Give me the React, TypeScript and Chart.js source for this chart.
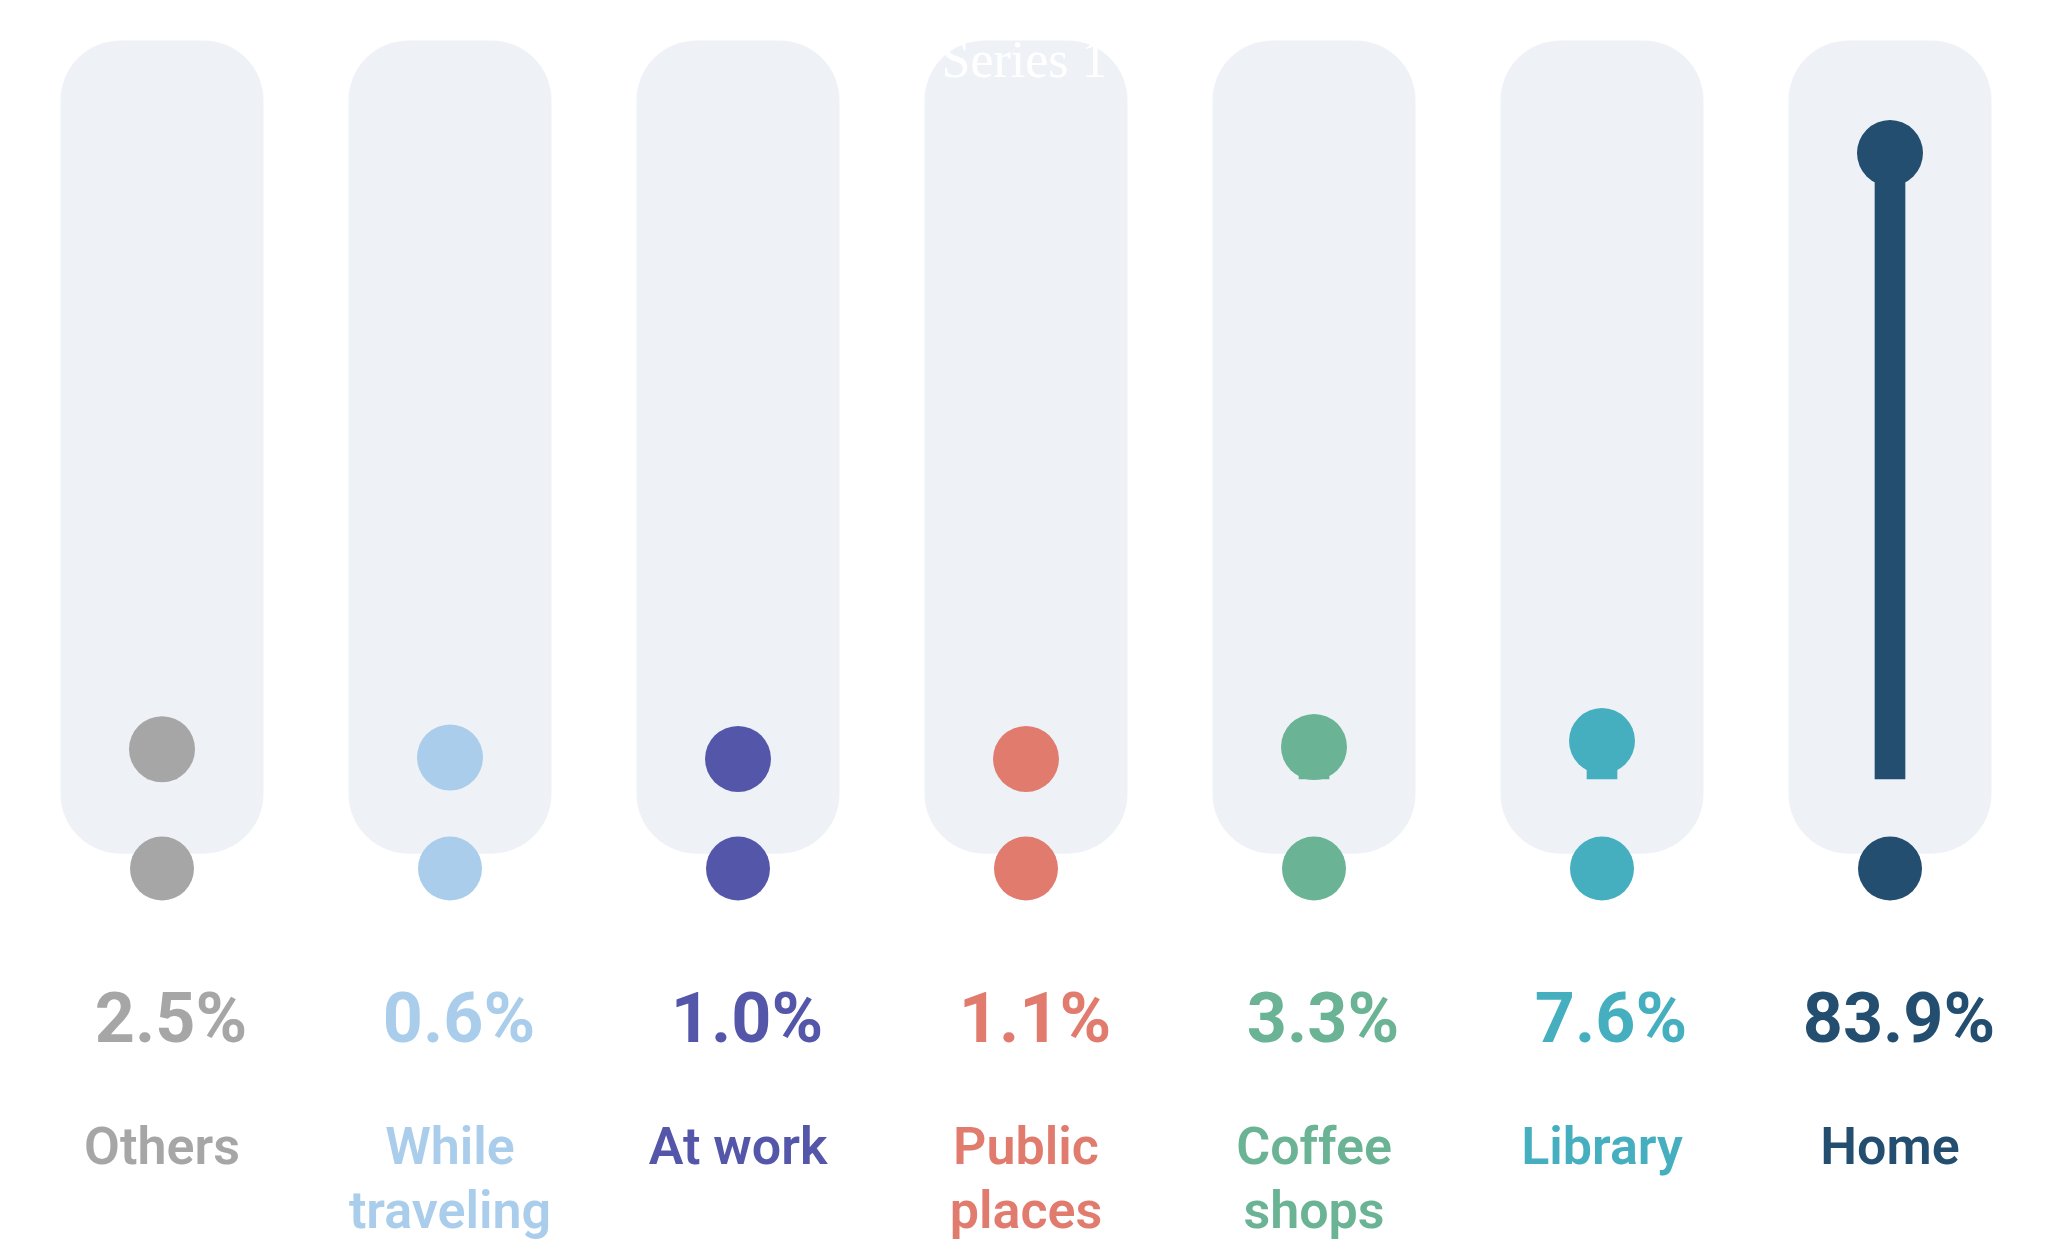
import React, { useEffect, useRef } from 'react';
import { Chart, registerables } from 'chart.js';

Chart.register(...registerables);

const categories: (string | string[])[] = [
  'Others',
  ['While', 'traveling'],
  'At work',
  ['Public', 'places'],
  ['Coffee', 'shops'],
  'Library',
  'Home',
];
const shares = [2.5, 0.6, 1.0, 1.1, 3.3, 7.6, 83.9];
const markerLevels = [4.0, 2.9, 2.7, 2.7, 4.3, 5.1, 83.9];
const baseMarkers = [-12, -12, -12, -12, -12, -12, -12];
const trackLow = -10;
const trackHigh = 99;
const seriesName = 'Series 1';
const colors = ['#a6a6a6', '#a9cdea', '#5457a9', '#e07b6e', '#6ab394', '#45afc0', '#234e6f'];
const trackColor = '#eef2f7';

export default function App() {
  const ref = useRef<HTMLCanvasElement | null>(null);

  useEffect(() => {
    if (!ref.current) return;
    const titlePlugin = {
      id: 'seriesTitle',
      afterDatasetsDraw(chart: any) {
        const { ctx } = chart;
        ctx.save();
        ctx.fillStyle = '#ffffff';
        ctx.font = '52px "Liberation Serif", serif';
        ctx.textAlign = 'center';
        ctx.textBaseline = 'alphabetic';
        ctx.fillText(seriesName, chart.width / 2, 69);
        ctx.restore();
      },
    };

    const chart = new Chart(ref.current, {
      type: 'bar',
      data: {
        labels: categories as any,
        datasets: [
          {
            type: 'line',
            label: 'value',
            data: markerLevels,
            showLine: false,
            pointRadius: 33,
            pointHoverRadius: 33,
            pointBackgroundColor: colors,
            pointBorderWidth: 0,
            borderWidth: 0,
            order: 0,
            clip: false,
          } as any,
          {
            type: 'line',
            label: 'base',
            data: baseMarkers,
            showLine: false,
            pointRadius: 32,
            pointHoverRadius: 32,
            pointBackgroundColor: colors,
            pointBorderWidth: 0,
            borderWidth: 0,
            order: 1,
            clip: false,
          } as any,
          {
            type: 'bar',
            label: seriesName,
            data: shares,
            backgroundColor: colors,
            barThickness: 30,
            grouped: false,
            order: 2,
          } as any,
          {
            type: 'bar',
            label: 'track',
            data: categories.map(() => [trackLow, trackHigh]),
            backgroundColor: trackColor,
            borderRadius: 60,
            borderSkipped: false,
            categoryPercentage: 0.705,
            barPercentage: 1,
            grouped: false,
            order: 3,
          } as any,
        ],
      },
      options: {
        animation: false,
        responsive: true,
        maintainAspectRatio: false,
        layout: { autoPadding: false, padding: { left: 10, right: 7, top: 25, bottom: 0 } },
        plugins: {
          legend: { display: false },
          tooltip: { enabled: false },
          title: { display: false },
        },
        scales: {
          x: {
            position: 'bottom',
            weight: 0,
            offset: true,
            grid: { display: false, drawTicks: true, tickLength: 84 },
            border: { display: false },
            ticks: {
              autoSkip: false,
              maxRotation: 0,
              minRotation: 0,
              padding: 0,
              labelOffset: 9,
              callback: (_v: any, i: number) => `${shares[i].toFixed(1)}%`,
              color: (c: any) => colors[c.index],
              font: { family: 'Roboto', size: 70, weight: 'bold', lineHeight: 1.2 },
            },
            afterFit: (s: any) => {
              s.height = 180;
            },
          },
          x2: {
            type: 'category',
            position: 'bottom',
            weight: 1,
            offset: true,
            grid: { display: false, drawTicks: true, tickLength: 41 },
            border: { display: false },
            ticks: {
              autoSkip: false,
              maxRotation: 0,
              minRotation: 0,
              padding: 0,
              color: (c: any) => colors[c.index],
              font: { family: 'Roboto', size: 52, weight: 600, lineHeight: 1.22 },
            },
            afterFit: (s: any) => {
              s.height = 160.6;
            },
          },
          y: { display: false, min: -16, max: 100 },
        },
      } as any,
      plugins: [titlePlugin],
    });
    return () => chart.destroy();
  }, []);

  return (
    <div style={{ position: 'fixed', left: 8, top: 8, width: 2033, height: 1231 }}>
      <canvas ref={ref} />
    </div>
  );
}
